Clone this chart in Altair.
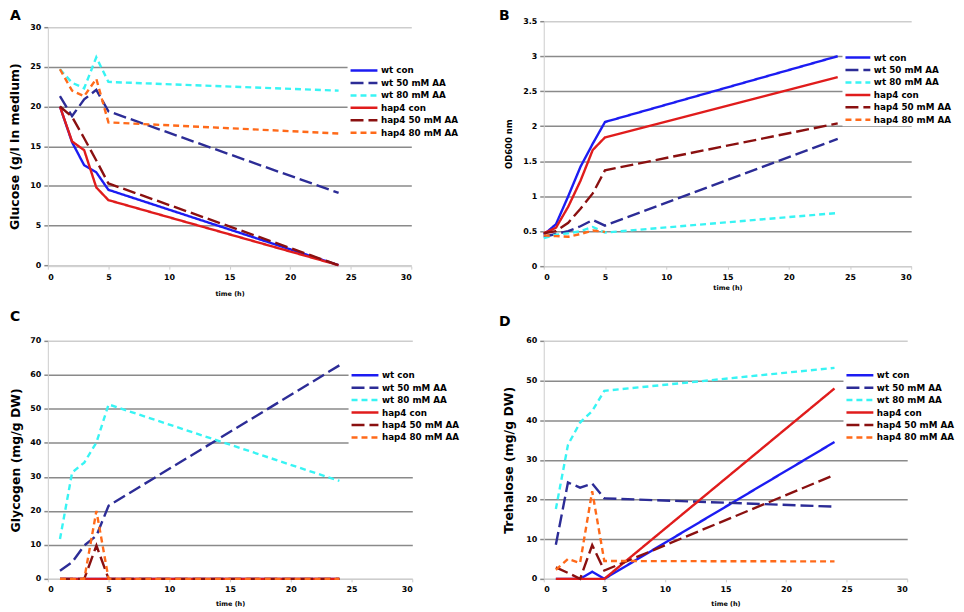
import altair as alt
import pandas as pd

# ---------------- data ----------------
series_names = ["wt con", "wt 50 mM AA", "wt 80 mM AA", "hap4 con", "hap4 50 mM AA", "hap4 80 mM AA"]
series_colors = ["#1c1cf2", "#2c2c96", "#38f4f4", "#e01c1c", "#8a1010", "#ff6a1a"]
series_dashes = [[1, 0], [13, 5], [6, 4], [1, 0], [13, 5], [6, 4]]

x_ticks = [0, 5, 10, 15, 20, 25, 30]

# A: glucose (g/l in medium)
time_a = [1, 2, 3, 4, 5, 24]
glucose_wt_con = [20.0, 15.5, 12.6, 11.7, 9.5, 0.0]
glucose_wt_50 = [21.3, 18.8, 20.9, 22.1, 19.4, 9.1]
glucose_wt_80 = [24.7, 23.0, 22.3, 26.2, 23.1, 22.0]
glucose_hap4_con = [20.0, 15.6, 14.5, 9.8, 8.2, 0.0]
glucose_hap4_50 = [20.0, 18.7, 16.0, 13.2, 10.3, 0.0]
glucose_hap4_80 = [24.7, 22.0, 21.3, 23.5, 18.0, 16.6]
glucose_ticks = [0, 5, 10, 15, 20, 25, 30]

# B: OD600
time_b = [0, 1, 2, 3, 4, 5, 24]
time_b_hap4_80 = [0, 1, 2, 3, 4, 5]
od_wt_con = [0.45, 0.60, 1.00, 1.42, 1.75, 2.06, 3.00]
od_wt_50 = [0.42, 0.46, 0.50, 0.57, 0.66, 0.58, 1.82]
od_wt_80 = [0.40, 0.45, 0.47, 0.50, 0.56, 0.48, 0.76]
od_hap4_con = [0.47, 0.55, 0.85, 1.22, 1.66, 1.84, 2.70]
od_hap4_50 = [0.47, 0.50, 0.62, 0.82, 1.04, 1.37, 2.04]
od_hap4_80 = [0.44, 0.43, 0.42, 0.46, 0.51, 0.49]
od_ticks = [0, 0.5, 1, 1.5, 2, 2.5, 3, 3.5]

# C: glycogen (mg/g DW)
time_c = [1, 2, 3, 4, 5, 24]
glycogen_wt_con = [0, 0, 0, 0, 0, 0]
glycogen_wt_50 = [2.4, 4.9, 9.8, 12.7, 21.5, 62.8]
glycogen_wt_80 = [11.7, 31.3, 34.2, 40.1, 51.3, 28.8]
glycogen_hap4_con = [0, 0, 0, 0, 0, 0]
glycogen_hap4_50 = [0, 0, 0, 9.8, 0, 0]
glycogen_hap4_80 = [0, 0, 0, 20.0, 0, 0]
glycogen_ticks = [0, 10, 20, 30, 40, 50, 60, 70]

# D: trehalose (mg/g DW)
time_d = [1, 2, 3, 4, 5, 24]
trehalose_wt_con = [0, 0, 0, 1.8, 0, 34.5]
trehalose_wt_50 = [8.6, 24.3, 23.0, 24.0, 20.3, 18.2]
trehalose_wt_80 = [17.6, 33.8, 39.4, 42.3, 47.4, 53.2]
trehalose_hap4_con = [0, 0, 0, 0, 0, 48.0]
trehalose_hap4_50 = [2.9, 1.5, 0.0, 8.5, 2.1, 26.2]
trehalose_hap4_80 = [2.3, 5.0, 4.0, 22.1, 4.5, 4.4]
trehalose_ticks = [0, 10, 20, 30, 40, 50, 60]


def long_table(times_per_series, values_per_series):
    rows = []
    for name, times, vals in zip(series_names, times_per_series, values_per_series):
        for t, v in zip(times, vals):
            rows.append({"series": name, "time": t, "value": v})
    return pd.DataFrame(rows)


df_a = long_table([time_a] * 6, [glucose_wt_con, glucose_wt_50, glucose_wt_80,
                                 glucose_hap4_con, glucose_hap4_50, glucose_hap4_80])
df_b = long_table([time_b] * 5 + [time_b_hap4_80], [od_wt_con, od_wt_50, od_wt_80,
                                                     od_hap4_con, od_hap4_50, od_hap4_80])
df_c = long_table([time_c] * 6, [glycogen_wt_con, glycogen_wt_50, glycogen_wt_80,
                                 glycogen_hap4_con, glycogen_hap4_50, glycogen_hap4_80])
df_d = long_table([time_d] * 6, [trehalose_wt_con, trehalose_wt_50, trehalose_wt_80,
                                 trehalose_hap4_con, trehalose_hap4_50, trehalose_hap4_80])

FONT = "DejaVu Sans"
GRID = "#8a8a8a"
LIGHT = "#cdcdcd"


def make_legend(lx, ly, path, offset):
    return alt.Legend(
        title=None, orient="none", legendX=lx, legendY=ly,
        symbolType=path, symbolSize=100, symbolStrokeWidth=2.5,
        labelFont=FONT, labelFontWeight="bold", labelFontSize=8.8, labelColor="black",
        labelOffset=offset, rowPadding=0.5, padding=1.5, fillColor="white",
    )


def panel(df, letter, ytitle, yticks, ymax, yfmt, width, height, yrange,
          ytitle_x, ytitle_size, xtitle_y, lx, ly, letter_x, letter_y,
          path="M-1,0H4.4", offset=19):
    if yrange is not None:
        yscale = alt.Scale(domain=[0, ymax], range=yrange, nice=False)
    else:
        yscale = alt.Scale(domain=[0, ymax], nice=False)
    grid_color = {"condition": {"test": f"datum.value == 0 || datum.value >= {ymax}", "value": LIGHT},
                  "value": GRID}
    lines = alt.Chart(df).mark_line(strokeWidth=2.4).encode(
        x=alt.X("time:Q", scale=alt.Scale(domain=[0, 30], nice=False),
                axis=alt.Axis(values=x_ticks, format="d", title="time (h)", titleFontSize=6.5,
                              titleY=xtitle_y, titleBaseline="middle", grid=False,
                              tickSize=3, tickColor=LIGHT, domainColor=LIGHT, labelPadding=4)),
        y=alt.Y("value:Q", scale=yscale,
                axis=alt.Axis(values=yticks, format=yfmt, title=ytitle, titleFontSize=ytitle_size,
                              titleX=ytitle_x, titleBaseline="middle", grid=True,
                              gridColor=grid_color, gridWidth=1.5, tickSize=4, tickColor=GRID,
                              tickWidth=1.5, labelPadding=3, domainColor=LIGHT)),
        color=alt.Color("series:N", scale=alt.Scale(domain=series_names, range=series_colors),
                        legend=make_legend(lx, ly, path, offset)),
        strokeDash=alt.StrokeDash("series:N", scale=alt.Scale(domain=series_names, range=series_dashes),
                                  legend=make_legend(lx, ly, path, offset)),
    )
    label = alt.Chart(pd.DataFrame({"letter": [letter]})).mark_text(
        font=FONT, fontSize=14, fontWeight="bold", align="left", baseline="top", color="black"
    ).encode(x=alt.value(letter_x), y=alt.value(letter_y), text="letter:N")
    return alt.layer(lines, label).properties(width=width, height=height)


pa = panel(df_a, "A", "Glucose (g/l in medium)", glucose_ticks, 30, "d", 365, 246, [245, 6],
           -33, 12.5, 27, 301, 41.5, -38, -12)
pb = panel(df_b, "B", "OD600 nm", od_ticks, 3.5, ".1~f", 369, 246, None,
           -35, 8.5, 21, 300, 28.5, -45, -12, path="M-1,0H4", offset=17)
pc = panel(df_c, "C", "Glycogen (mg/g DW)", glycogen_ticks, 70, "d", 366, 239, None,
           -32.5, 12.5, 25, 302, 26.5, -38, -31)
pd_ = panel(df_d, "D", "Trehalose (mg/g DW)", trehalose_ticks, 60, "d", 365, 239, None,
            -35, 12.5, 25, 301, 26.5, -45, -26)

chart = alt.concat(
    pa, pb, pc, pd_, columns=2, spacing={"row": 75, "column": 132}, bounds="flush"
).resolve_scale(
    color="independent", strokeDash="independent"
).properties(
    padding={"left": 0, "top": 0, "right": 0, "bottom": 0},
    background="white",
).configure_view(stroke=None).configure_axis(
    labelFont=FONT, labelFontWeight="bold", labelFontSize=8, labelColor="black",
    titleFont=FONT, titleFontWeight="bold", titleColor="black",
)

chart.save("out.html", embed_options={"renderer": "svg", "actions": False})
